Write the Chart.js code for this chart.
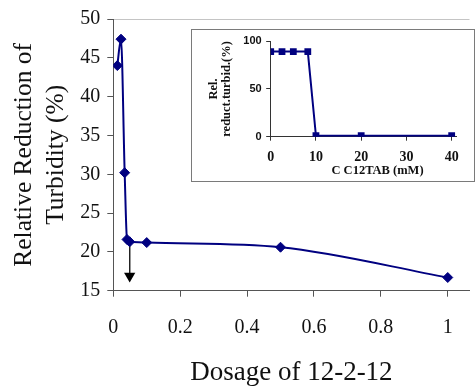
<!DOCTYPE html>
<html>
<head>
<meta charset="utf-8">
<script src="https://cdn.jsdelivr.net/npm/chart.js@4.4.1/dist/chart.umd.min.js"></script>
<style>
  html, body { margin: 0; padding: 0; background: #fff; }
  #wrap { position: relative; width: 476px; height: 386px; }
  #main { position: absolute; left: 0; top: 0; }
  #insetBox {
    position: absolute; left: 191px; top: 29px; width: 284px; height: 153px;
    box-sizing: border-box; border: 1px solid #7a7a7a; background: #fff;
  }
  #inset { display: block; }
</style>
</head>
<body>
<div id="wrap">
  <canvas id="main" width="476" height="386"></canvas>
  <div id="insetBox"><canvas id="inset" width="282" height="151"></canvas></div>
</div>
<script>
// main plot: turbidity reduction vs dosage of 12-2-12
const dosage = [0.012, 0.023, 0.034, 0.041, 0.049, 0.1, 0.5, 1]
const reduction = [44, 47.4, 30.2, 21.6, 21.3, 21.2, 20.6, 16.7]
const arrowX = [0.049, 0.049]
const arrowY = [21.3, 16.9]
const dosageTicks = [0, 0.2, 0.4, 0.6, 0.8, 1]

// inset: C12TAB
const c12tab = [0, 2.5, 5, 8.2, 10, 20, 40]
const relReduct = [89, 89, 89, 89, 1, 1, 1]
const c12tabTicks = [0, 10, 20, 30, 40]

const serif = "'Liberation Serif', 'Times New Roman', serif"
const navy = "#000080"
const axisColor = "#555"

const toPoints = (xs, ys) => xs.map((x, i) => ({ x, y: ys[i] }))

new Chart(document.getElementById("main"), {
  type: "line",
  data: {
    datasets: [
      {
        data: toPoints(dosage, reduction),
        borderColor: navy,
        borderWidth: 2,
        backgroundColor: navy,
        pointStyle: "rectRot",
        pointRadius: 5,
        pointBorderWidth: 1,
        cubicInterpolationMode: "monotone",
      },
      {
        data: toPoints(arrowX, arrowY),
        borderColor: "#222",
        borderWidth: 1,
        backgroundColor: "#000",
        pointStyle: "triangle",
        pointRotation: 180,
        pointRadius: [0, 6.5],
        pointBorderWidth: 0,
      },
    ],
  },
  options: {
    responsive: false,
    animation: false,
    layout: { padding: { top: 17.3, right: 0, left: 0, bottom: 0 } },
    plugins: { legend: { display: false }, tooltip: { enabled: false } },
    scales: {
      x: {
        type: "linear",
        min: 0,
        max: 1.065,
        afterBuildTicks: (s) => { s.ticks = dosageTicks.map((v) => ({ value: v })) },
        afterFit: (s) => { s.height = 95.3 },
        ticks: {
          font: { family: serif, size: 20 },
          color: "#111",
          padding: 18.6,
          callback: (v) => String(v),
        },
        grid: { drawOnChartArea: false, tickLength: 6, tickColor: axisColor },
        border: { color: axisColor, width: 1 },
        title: {
          display: true,
          text: "Dosage of 12-2-12",
          color: "#111",
          font: { family: serif, size: 27, lineHeight: 1 },
          padding: { top: 0, bottom: 0 },
        },
      },
      y: {
        min: 15,
        max: 50,
        afterFit: (s) => { s.width = 113.3 },
        ticks: {
          stepSize: 5,
          font: { family: serif, size: 20 },
          color: "#111",
          padding: 7,
        },
        grid: {
          tickLength: 6,
          tickColor: axisColor,
          color: (c) => (c.tick && c.tick.value === 50 ? "#c4c4c4" : "transparent"),
        },
        border: { color: axisColor, width: 1 },
        title: {
          display: true,
          text: ["Relative Reduction of", "Turbidity (%)"],
          color: "#111",
          font: { family: serif, size: 25.5, lineHeight: 1.26 },
          padding: { top: 8, bottom: 0 },
        },
      },
    },
  },
})

new Chart(document.getElementById("inset"), {
  type: "line",
  data: {
    datasets: [
      {
        data: toPoints(c12tab, relReduct),
        borderColor: navy,
        borderWidth: 2,
        backgroundColor: navy,
        pointStyle: "rect",
        pointRadius: 4.8,
        pointBorderWidth: 0,
      },
    ],
  },
  options: {
    responsive: false,
    animation: false,
    layout: { padding: { top: 10.7, right: 17.8, left: 0, bottom: 0 } },
    plugins: { legend: { display: false }, tooltip: { enabled: false } },
    scales: {
      x: {
        type: "linear",
        min: 0,
        max: 41,
        afterBuildTicks: (s) => { s.ticks = c12tabTicks.map((v) => ({ value: v })) },
        afterFit: (s) => { s.height = 44.3 },
        ticks: {
          font: { family: serif, size: 14, weight: "bold" },
          color: "#111",
          padding: 8.5,
          callback: (v) => String(v),
        },
        grid: { drawOnChartArea: false, tickLength: 4, tickColor: "#333" },
        border: { color: "#333", width: 1 },
        title: {
          display: true,
          text: "         C C12TAB (mM)",
          color: "#111",
          font: { family: serif, size: 12.5, weight: "bold", lineHeight: 1 },
          padding: { top: 0, bottom: 4 },
        },
      },
      y: {
        min: 0,
        max: 100,
        afterFit: (s) => { s.width = 78.7 },
        ticks: {
          stepSize: 50,
          font: { family: "'Liberation Sans', Arial, sans-serif", size: 11, weight: "bold" },
          color: "#111",
          padding: 4.5,
        },
        grid: { drawOnChartArea: false, tickLength: 4.5, tickColor: "#333" },
        border: { color: "#333", width: 1 },
        title: {
          display: true,
          text: ["Rel.", "reduct.turbid.(%)"],
          color: "#111",
          font: { family: serif, size: 12.5, weight: "bold", lineHeight: 1 },
          padding: { top: 15.7, bottom: 0 },
        },
      },
    },
  },
})
</script>
</body>
</html>
